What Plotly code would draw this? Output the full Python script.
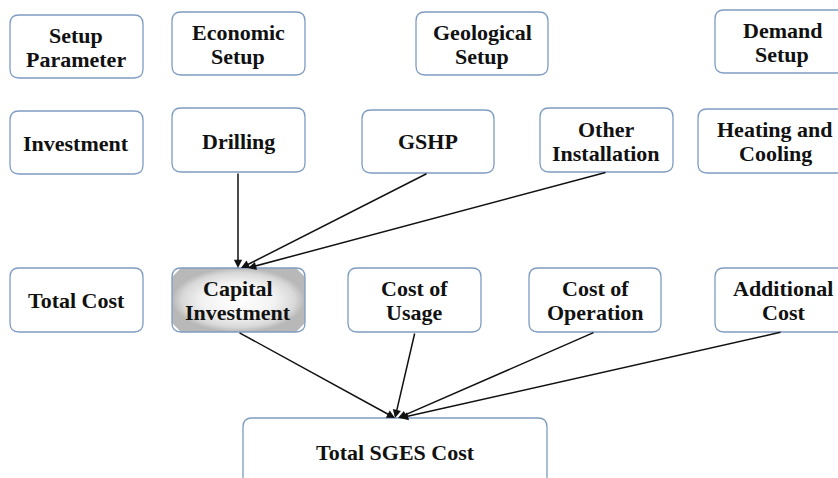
import plotly.graph_objects as go

# box labels and their extents (pixel-like units, y grows downward)
labels = ["Setup<br>Parameter", "Economic<br>Setup", "Geological<br>Setup", "Demand<br>Setup",
          "Investment", "Drilling", "GSHP", "Other<br>Installation", "Heating and<br>Cooling",
          "Total Cost", "Capital<br>Investment", "Cost of<br>Usage", "Cost of<br>Operation", "Additional<br>Cost",
          "Total SGES Cost"]
box_x0 = [10, 172, 416, 715, 10, 172, 362, 540, 698, 10, 172, 348, 529, 715, 243]
box_x1 = [143, 305, 548, 850, 143, 305, 494, 673, 850, 143, 305, 481, 661, 850, 547]
box_y0 = [15, 12, 12, 10, 111, 108, 110, 108, 109, 268, 268, 268, 268, 268, 418]
box_y1 = [78, 75, 75, 73, 174, 172, 173, 172, 173, 332, 332, 332, 332, 332, 500]
label_x = [76, 238, 482, 782, 76, 238, 428, 606, 775, 76, 238, 414, 595, 783, 395]
label_y = [47, 44, 44, 42, 143, 141, 141, 141, 141, 300, 300, 300, 300, 300, 452]
highlight = "Capital<br>Investment"

# arrows: source box -> target box (start x on source bottom, landing x on target top)
edge_src = [5, 6, 7, 10, 11, 12, 13]
edge_dst = [10, 10, 10, 14, 14, 14, 14]
edge_start = [238, 428, 607, 238, 415, 595, 782]
edge_land = [238, 241, 248, 395, 395, 398, 400]

LINE_GAP = 24


def rounded(x0, y0, x1, y1, r=9):
    return (f"M {x0+r},{y0} L {x1-r},{y0} Q {x1},{y0} {x1},{y0+r} "
            f"L {x1},{y1-r} Q {x1},{y1} {x1-r},{y1} L {x0+r},{y1} "
            f"Q {x0},{y1} {x0},{y1-r} L {x0},{y0+r} Q {x0},{y0} {x0+r},{y0} Z")


fig = go.Figure()
shapes = []
annotations = []

for lab, x0, x1, y0, y1, lx, ly in zip(labels, box_x0, box_x1, box_y0, box_y1, label_x, label_y):
    if lab == highlight:
        # gradient filled box drawn as a scatter so it can use fillgradient
        r = 9
        xs = [x0+r, x1-r, x1, x1, x1-r, x0+r, x0, x0, x0+r]
        ys = [y0, y0, y0+r, y1-r, y1, y1, y1-r, y0+r, y0]
        fig.add_trace(go.Scatter(
            x=xs, y=ys, mode="lines", fill="toself", line=dict(width=0),
            fillgradient=dict(type="radial", colorscale=[[0, "#ffffff"], [0.55, "#f2f2f2"],
                                                         [0.85, "#d8d8d8"], [1, "#b8b8b8"]]),
            hoverinfo="skip", showlegend=False))
    shapes.append(dict(type="path", path=rounded(x0, y0, x1, y1), xref="x", yref="y",
                       line=dict(color="#7f9cc2", width=1.3), fillcolor="rgba(0,0,0,0)", layer="above"))
    # each text line is placed on its own so the line spacing matches the reference
    lines = lab.split("<br>")
    top = ly - LINE_GAP * (len(lines) - 1) / 2
    for i, txt in enumerate(lines):
        annotations.append(dict(x=lx, y=top + i * LINE_GAP, text=f"<b>{txt}</b>", showarrow=False,
                                xref="x", yref="y",
                                font=dict(family="Liberation Serif", size=22, color="#111111")))

for s, d, sx, lx in zip(edge_src, edge_dst, edge_start, edge_land):
    annotations.append(dict(x=lx, y=box_y0[d], ax=sx, ay=box_y1[s], xref="x", yref="y",
                            axref="x", ayref="y", showarrow=True, arrowhead=2, arrowsize=1.1,
                            arrowwidth=1.5, arrowcolor="#111111", text=""))

fig.update_layout(
    width=838, height=478, margin=dict(l=0, r=0, t=0, b=0),
    paper_bgcolor="white", plot_bgcolor="white",
    xaxis=dict(range=[0, 838], visible=False, fixedrange=True),
    yaxis=dict(range=[478, 0], visible=False, fixedrange=True),
    shapes=shapes, annotations=annotations, showlegend=False)

# drop the default body margin so the figure fills the window exactly
fig.write_html("out.html", config={"displayModeBar": False},
               post_script="document.body.style.margin='0';document.body.style.overflow='hidden';")
